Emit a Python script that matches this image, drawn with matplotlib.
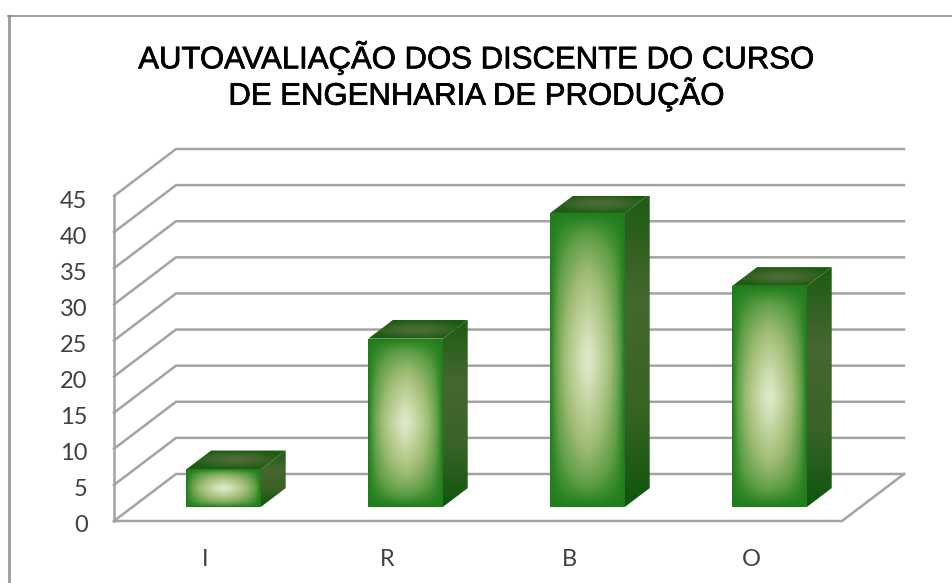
import numpy as np
import matplotlib
matplotlib.use('Agg')
import matplotlib.pyplot as plt
import matplotlib.patheffects as pe
from matplotlib.colors import LinearSegmentedColormap
from matplotlib.lines import Line2D
from matplotlib.patches import Polygon
from matplotlib.transforms import ScaledTranslation

categories = ['I', 'R', 'B', 'O']
values = [5.2, 23.3, 40.7, 30.6]
y_ticks = [0, 5, 10, 15, 20, 25, 30, 35, 40, 45]
title = 'AUTOAVALIAÇÃO DOS DISCENTE DO CURSO\nDE ENGENHARIA DE PRODUÇÃO'

W, H = 953, 583
GRID = '#a3a3a3'
# depth of the 3d box, in data units
DX = 62 / 182
DY = 47 / (325 / 45)
BAR_W = 0.41

front_cmap = LinearSegmentedColormap.from_list(
    'front', [(0, '#dde9c8'), (.22, '#bed29a'), (.5, '#9dbb72'), (.8, '#5f9e46'), (1, '#1f7d1c')])
side_cmap = LinearSegmentedColormap.from_list(
    'side', ['#1d5c12', '#46672f', '#3a6426', '#0f560d'])
top_cmap = LinearSegmentedColormap.from_list(
    'top', ['#4f6e3a', '#3f662a', '#1c5c12'])


def depth(x, y, d):
    return x + DX * d, y + DY * d


def shaded(ax, corners, img, cmap):
    # gradient image clipped to a polygon
    xs = [c[0] for c in corners]
    ys = [c[1] for c in corners]
    im = ax.imshow(img, cmap=cmap, vmin=0, vmax=1, aspect='auto', origin='lower',
                   extent=(min(xs), max(xs), min(ys), max(ys)), zorder=3,
                   interpolation='bilinear')
    poly = Polygon(corners, closed=True, transform=ax.transData, facecolor='none', edgecolor='none')
    ax.add_patch(poly)
    im.set_clip_path(poly)
    im.set_clip_on(True)


def draw_bar(ax, i, val):
    x0, x1 = i - BAR_W / 2, i + BAR_W / 2

    u, v = np.meshgrid(np.linspace(-1, 1, 120), np.linspace(-1, 1, 200))
    front = [depth(x0, 0, .3), depth(x1, 0, .3), depth(x1, val, .3), depth(x0, val, .3)]
    shaded(ax, front, 1 - (1 - np.abs(u) ** 1.5) * (1 - np.abs(v) ** 1.4), front_cmap)

    t = np.linspace(0, 1, 100).reshape(-1, 1)
    side = [depth(x1, 0, .3), depth(x1, 0, .7), depth(x1, val, .7), depth(x1, val, .3)]
    shaded(ax, side, 1 - t, side_cmap)

    top = [depth(x0, val, .3), depth(x1, val, .3), depth(x1, val, .7), depth(x0, val, .7)]
    u, v = np.meshgrid(np.linspace(-1, 1, 120), np.linspace(-1, 1, 40))
    shaded(ax, top, np.clip(np.sqrt(u ** 2 + v ** 2), 0, 1), top_cmap)


plt.rcParams['font.family'] = ['Lato', 'DejaVu Sans']
fig = plt.figure(figsize=(W / 100, H / 100), dpi=100, facecolor='white')
ax = fig.add_axes([114 / W, (H - 521) / H, 728 / W, 325 / H])
ax.set_facecolor('none')
for s in ax.spines.values():
    s.set_visible(False)

xlo, xhi = -0.5, 3.5
ylo, yhi = 0, 45

# walls and floor
for y in y_ticks:
    bx, by = depth(xlo, y, 1)
    ex, _ = depth(xhi, y, 1)
    ax.plot([xlo, bx, ex], [y, by, by], color=GRID, lw=1.8, clip_on=False, zorder=1,
            solid_joinstyle='miter')
ax.plot([xlo, xlo], [ylo, yhi], color=GRID, lw=1.8, clip_on=False, zorder=1)
ax.plot([xlo, xhi, depth(xhi, 0, 1)[0]], [0, 0, depth(xhi, 0, 1)[1]], color=GRID, lw=1.8,
        clip_on=False, zorder=1)

for i, val in enumerate(values):
    draw_bar(ax, i, val)

ax.set_xlim(xlo, xhi)
ax.set_ylim(ylo, yhi)
ax.set_xticks(range(len(categories)))
ax.set_xticklabels(categories)
ax.set_yticks(y_ticks)
ax.tick_params(axis='both', length=0, labelsize=17, labelcolor='#404040')
ax.tick_params(axis='x', pad=20)
ax.tick_params(axis='y', pad=19)

# y labels sit a little below their gridline in the original
shift = ScaledTranslation(0, -3 / 100, fig.dpi_scale_trans)
for lab in ax.get_yticklabels():
    lab.set_transform(lab.get_transform() + shift)

t = fig.text(476 / W, 1 - 76 / H, title, ha='center', va='center', fontsize=22.4, color='black',
             family='Liberation Sans', linespacing=1.05)
t.set_path_effects([pe.withStroke(linewidth=0.5, foreground='black')])

# outer frame of the pasted chart
fig.add_artist(Line2D([9 / W, 9 / W], [0, 1 - 16 / H], color='#a0a0a0', lw=2.2))
fig.add_artist(Line2D([8 / W, 1], [1 - 16 / H, 1 - 16 / H], color='#8c8c8c', lw=1.2))

fig.savefig('out.png', dpi=100)
